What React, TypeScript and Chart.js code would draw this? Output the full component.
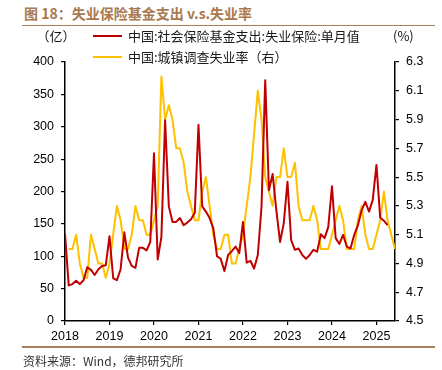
import React, { useEffect, useRef } from 'react';
import { Chart, registerables } from 'chart.js';

Chart.register(...registerables);

// 中国:社会保险基金支出:失业保险:单月值 (亿元), monthly from 2017-12
const expenseStart = { year: 2017, month: 12 };
const expenseValues = [
  135,
  55, 57, 62, 57, 63, 83, 79, 71, 80, 85, 86, 131,
  66, 63, 80, 137, 98, 85, 82, 113, 113, 109, 122, 259,
  95, 130, 310, 177, 153, 153, 159, 148, 152, 157, 167, 303,
  177, 169, 159, 143, 100, 96, 77, 102, 108, 115, 105, 153,
  90, 93, 81, 102, 176, 372, 202, 227, 171, 122, 151, 215,
  125, 110, 112, 102, 96, 102, 110, 107, 134, 128, 145, 208,
  128, 119, 133, 115, 112, 133, 148, 171, 184, 169, 187, 241,
  160, 155, 148,
];

// 中国:城镇调查失业率 (%), monthly from 2018-01
const rateStart = { year: 2018, month: 1 };
const rateValues = [
  5.0, 5.0, 5.1, 4.9, 4.8, 4.8, 5.1, 5.0, 4.9, 4.9, 4.8, 4.9,
  5.1, 5.3, 5.2, 5.0, 5.0, 5.1, 5.3, 5.2, 5.2, 5.1, 5.1, 5.2,
  5.3, 6.2, 5.9, 6.0, 5.9, 5.7, 5.7, 5.6, 5.4, 5.3, 5.2, 5.2,
  5.4, 5.5, 5.3, 5.1, 5.0, 5.0, 5.1, 5.1, 4.9, 4.9, 5.0, 5.1,
  5.3, 5.5, 5.8, 6.1, 5.9, 5.5, 5.4, 5.3, 5.5, 5.5, 5.7, 5.5,
  5.5, 5.6, 5.3, 5.2, 5.2, 5.2, 5.3, 5.2, 5.0, 5.0, 5.0, 5.1,
  5.2, 5.3, 5.2, 5.0, 5.0, 5.0, 5.2, 5.3, 5.1, 5.0, 5.0, 5.1,
  5.2, 5.4, 5.2, 5.1, 5.0,
];

const axisEnd = { year: 2025, month: 5 };
const yearLabels = ['2018', '2019', '2020', '2021', '2022', '2023', '2024', '2025'];
const leftTicks = [0, 50, 100, 150, 200, 250, 300, 350, 400];
const rightTicks = [4.5, 4.7, 4.9, 5.1, 5.3, 5.5, 5.7, 5.9, 6.1, 6.3];

const seriesNames = ['中国:社会保险基金支出:失业保险:单月值', '中国:城镇调查失业率（右）'];
const seriesColors = ['#C00000', '#FFC000'];

const titleText = '图 18：失业保险基金支出 v.s.失业率';
const sourceText = '资料来源：Wind，德邦研究所';
const leftUnit = '（亿）';
const rightUnit = '(%)';

// month-end position: Dec 2017 sits on the 2018 tick
const monthPos = (year: number, month: number) => (year - 2018) * 12 + month;

const toPoints = (start: { year: number; month: number }, values: number[]) => {
  const s = monthPos(start.year, start.month);
  return values.map((v, k) => ({ x: s + k, y: v }));
};

const CJK = '"Noto Sans CJK SC", "Noto Sans", sans-serif';
const TICK_FONT = 'Liberation Sans, Arial, sans-serif';

export default function App() {
  const canvasRef = useRef<HTMLCanvasElement | null>(null);

  useEffect(() => {
    const canvas = canvasRef.current;
    if (!canvas) return;
    const tickFont = { family: TICK_FONT, size: 12.5 };
    const gridOpts = { drawOnChartArea: false, drawTicks: true, tickLength: 4, color: '#000', lineWidth: 1.2 };
    const borderOpts = { display: true, color: '#000', width: 1.5 };
    const chart = new Chart(canvas, {
      type: 'line',
      data: {
        datasets: [
          {
            label: seriesNames[0],
            data: toPoints(expenseStart, expenseValues),
            borderColor: seriesColors[0],
            backgroundColor: seriesColors[0],
            borderWidth: 2,
            pointRadius: 0,
            tension: 0,
            borderJoinStyle: 'round',
            yAxisID: 'y',
          },
          {
            label: seriesNames[1],
            data: toPoints(rateStart, rateValues),
            borderColor: seriesColors[1],
            backgroundColor: seriesColors[1],
            borderWidth: 2,
            pointRadius: 0,
            tension: 0,
            borderJoinStyle: 'round',
            yAxisID: 'y1',
          },
        ],
      },
      options: {
        responsive: false,
        animation: false,
        devicePixelRatio: 1,
        layout: { padding: { top: 62, left: 0, right: 0, bottom: 0 } },
        plugins: { legend: { display: false }, tooltip: { enabled: false } },
        scales: {
          x: {
            type: 'linear',
            min: 0,
            max: monthPos(axisEnd.year, axisEnd.month),
            afterBuildTicks: (s: any) => {
              s.ticks = yearLabels.map((_, k) => ({ value: k * 12 }));
            },
            afterFit: (s: any) => {
              s.height = 49;
            },
            ticks: {
              autoSkip: false,
              maxRotation: 0,
              padding: 4,
              color: '#000',
              font: tickFont,
              callback: (v: any) => yearLabels[Math.round(Number(v) / 12)],
            },
            grid: gridOpts,
            border: borderOpts,
          },
          y: {
            type: 'linear',
            position: 'left',
            min: leftTicks[0],
            max: leftTicks[leftTicks.length - 1],
            afterBuildTicks: (s: any) => {
              s.ticks = leftTicks.map((v) => ({ value: v }));
            },
            afterFit: (s: any) => {
              s.width = 65;
            },
            ticks: {
              padding: 7,
              color: '#000',
              font: { family: TICK_FONT, size: 12.5 },
              callback: (v: any) => String(v),
            },
            grid: gridOpts,
            border: borderOpts,
          },
          y1: {
            type: 'linear',
            position: 'right',
            min: rightTicks[0],
            max: rightTicks[rightTicks.length - 1],
            afterBuildTicks: (s: any) => {
              s.ticks = rightTicks.map((v) => ({ value: v }));
            },
            afterFit: (s: any) => {
              s.width = 47;
            },
            ticks: {
              padding: 7,
              color: '#000',
              font: tickFont,
              callback: (v: any) => Number(v).toFixed(1),
            },
            grid: gridOpts,
            border: borderOpts,
          },
        },
      },
    } as any);
    return () => chart.destroy();
  }, []);

  const ruleColor = '#A9805C';

  return (
    <div style={{ position: 'absolute', left: 0, top: 0, width: 442, height: 370, background: '#fff', overflow: 'hidden' }}>
      <div
        style={{
          position: 'absolute', left: 24, top: 3, height: 20, lineHeight: '20px',
          fontFamily: CJK, fontWeight: 700, fontSize: 14, color: '#A8784F', whiteSpace: 'nowrap',
        }}
      >
        {titleText}
      </div>
      <div style={{ position: 'absolute', left: 22, top: 24.5, width: 413, height: 1.5, background: ruleColor }} />
      <canvas ref={canvasRef} width={442} height={370} style={{ position: 'absolute', left: 0, top: 0, width: 442, height: 370 }} />
      <div
        style={{
          position: 'absolute', left: 36, top: 26, width: 40, height: 20, lineHeight: '20px', textAlign: 'center',
          fontFamily: CJK, fontSize: 13, color: '#111', whiteSpace: 'nowrap',
        }}
      >
        {leftUnit}
      </div>
      <div
        style={{
          position: 'absolute', left: 393, top: 26, height: 20, lineHeight: '20px',
          fontFamily: CJK, fontSize: 13, color: '#111', whiteSpace: 'nowrap',
        }}
      >
        {rightUnit}
      </div>
      {seriesNames.map((name, k) => (
        <div key={name} style={{ position: 'absolute', left: 93, top: (k === 0 ? 36 : 56.5) - 10, height: 20, whiteSpace: 'nowrap' }}>
          <div style={{ position: 'absolute', left: 0, top: 9, width: 29, height: 2, background: seriesColors[k] }} />
          <div
            style={{
              position: 'absolute', left: 35, top: 0, height: 20, lineHeight: '20px',
              fontFamily: CJK, fontSize: 13, color: '#1a1a1a',
            }}
          >
            {name}
          </div>
        </div>
      ))}
      <div style={{ position: 'absolute', left: 22, top: 346, width: 413, height: 1.5, background: ruleColor }} />
      <div
        style={{
          position: 'absolute', left: 23, top: 351, height: 20, lineHeight: '20px',
          fontFamily: CJK, fontSize: 12, color: '#333', whiteSpace: 'nowrap',
        }}
      >
        {sourceText}
      </div>
    </div>
  );
}
